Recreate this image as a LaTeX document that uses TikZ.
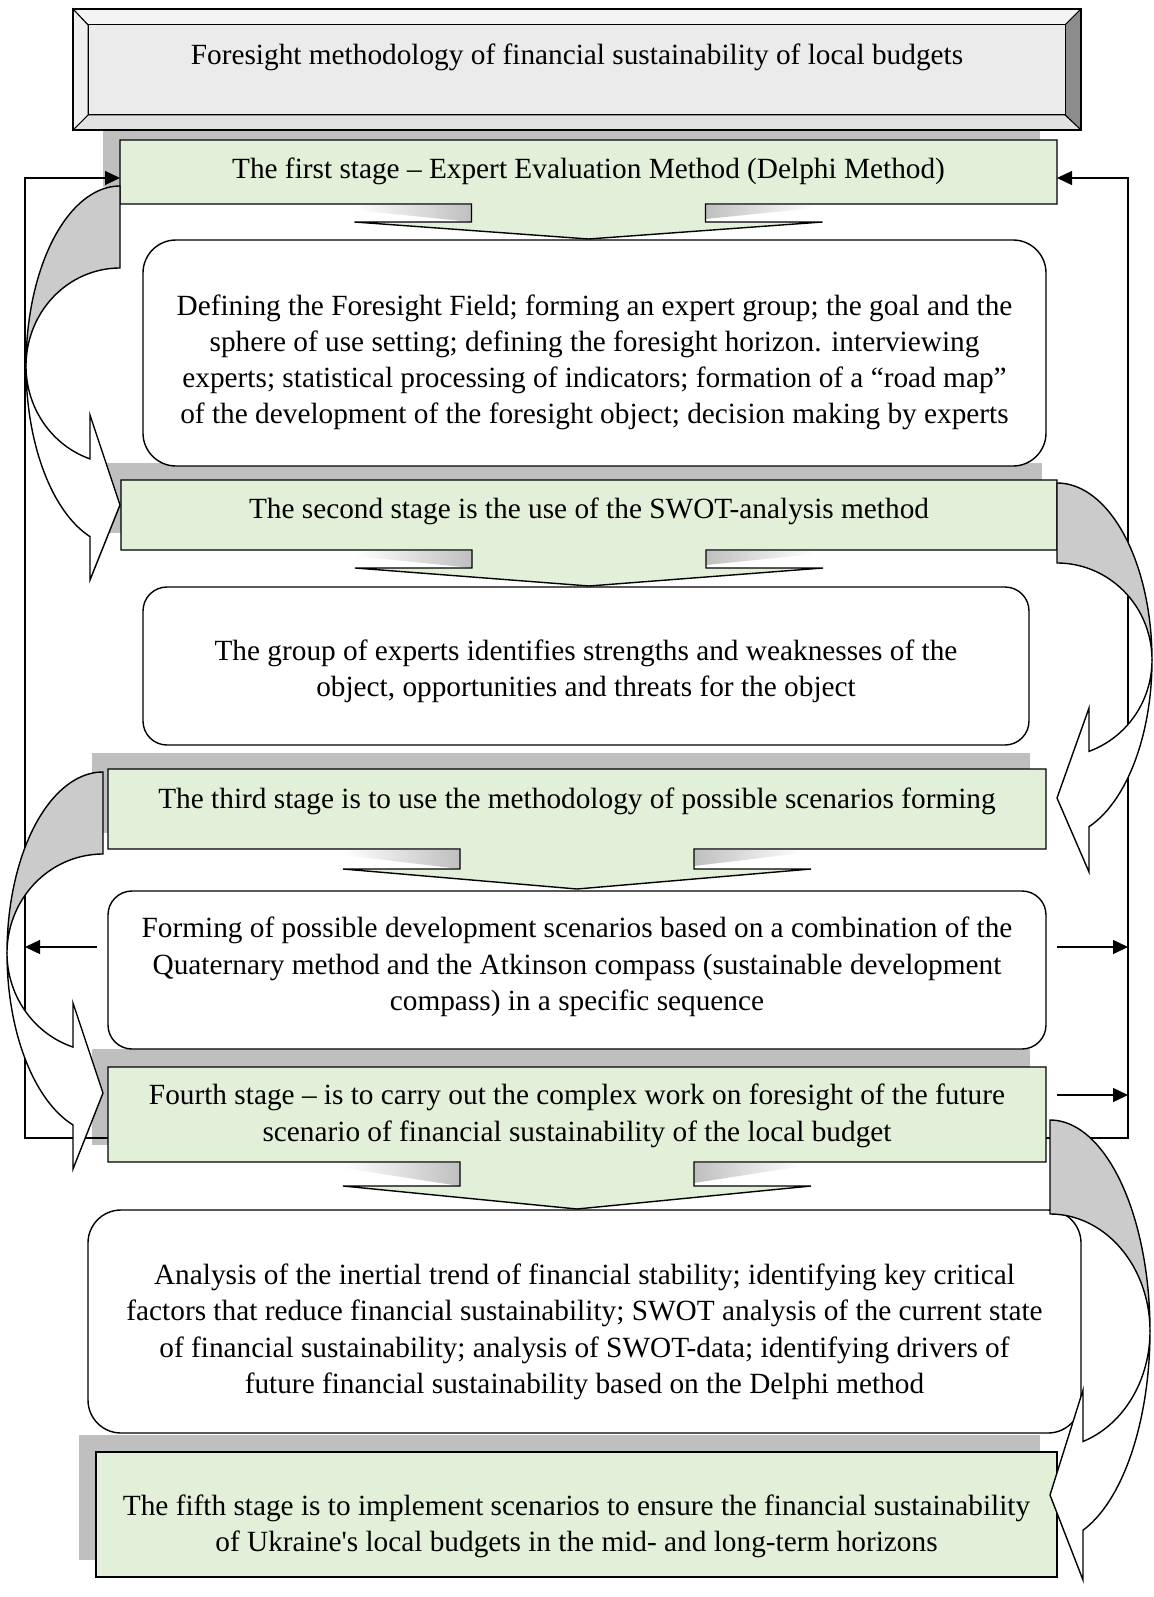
\documentclass[tikz,border=0pt]{standalone}
\usepackage{fontspec}
\newfontfamily\diagfont{Liberation Serif}
\usetikzlibrary{arrows.meta}
\definecolor{stagegreen}{HTML}{E2EFD9}
\definecolor{shadowgray}{HTML}{BFBFBF}
\definecolor{backgray}{HTML}{CBCBCB}
\definecolor{titlefill}{HTML}{EBEBEB}
\definecolor{beveltop}{HTML}{F4F4F4}
\definecolor{bevelleft}{HTML}{EFEFEF}
\definecolor{bevelbottom}{HTML}{E2E2E2}
\definecolor{bevelright}{HTML}{8C8C8C}
\newcommand\ls{\rule[-9.15pt]{0pt}{36.3pt}}
% callout: x1 y1 x2 y2 cx wingy tipy
\newcommand\calloutshape[7]{\filldraw[greenbox] (#1,#2) -- (#3,#2) -- (#3,#4) -- ({#5+117},#4) -- ({#5+117},#6) -- ({#5+234},#6) -- (#5,#7) -- ({#5-234},#6) -- ({#5-117},#6) -- ({#5-117},#4) -- (#1,#4) -- cycle;}
\newcommand\wedges[3]{%
  \shade[left color=white,right color=shadowgray] ({#1-234},{#2+1}) -- ({#1-117},{#2+1}) -- ({#1-117},#3) -- ({#1-234},{#2+6}) -- cycle;
  \shade[left color=shadowgray,right color=white] ({#1+117},{#2+1}) -- ({#1+226},{#2+1}) -- ({#1+226},{#2+4}) -- ({#1+117},{#3-3}) -- cycle;}
\newcommand\setcv[6]{\def\cvx{#1}\def\cvy{#2}\def\cvd{#3}\def\cvrx{#4}\def\cvra{#5}\def\cvrb{#6}}
\newcommand\cvbackdraw{\filldraw[cvback] plot[domain=-90:0,samples=60,variable=\t] ({\cvx+(\cvd)*\cvrx*cos(\t)},{\cvy+\cvra*sin(\t)}) -- plot[domain=0:90,samples=60,variable=\t] ({\cvx+(\cvd)*\cvrx*cos(\t)},{\cvy-\cvrb*sin(\t)}) -- cycle;}
\newcommand\cvfrontdraw[4]{%
  \pgfmathsetmacro\cvte{acos(abs(#1-\cvx)/\cvrx)}%
  \filldraw[cvfront] plot[domain=0:\cvte,samples=60,variable=\t] ({\cvx+(\cvd)*\cvrx*cos(\t)},{\cvy+\cvra*sin(\t)}) -- (#1,#3) -- (\cvx,#4) -- (#1,#2) -- plot[domain=0:\cvte,samples=60,variable=\t] ({\cvx+(\cvd)*\cvrx*cos(\cvte-\t)},{\cvy+\cvrb*sin(\cvte-\t)}) -- cycle;}
\begin{document}
\begin{tikzpicture}[x=1pt,y=-1pt,
  geo/.style={rectangle,inner sep=0pt,outer sep=0pt,draw=none},
  txt/.style={font=\diagfont\fontsize{29.3}{36.3}\selectfont,align=center,inner sep=0pt},
  greenbox/.style={draw=black,line width=1.4pt,fill=stagegreen},
  rbox/.style={draw=black,line width=1.4pt,fill=white},
  conn/.style={line width=1.4pt,-{Triangle[length=15pt,width=14pt]}},
  cvback/.style={draw=black,line width=1.4pt,fill=backgray},
  cvfront/.style={draw=black,line width=1.4pt,fill=white},
  bevel/.style={draw=black,line width=1pt}]
\useasboundingbox (0,0) rectangle (1153,1597);
\fill[white] (0,0) rectangle (1153,1597);

% ---------- shadows ----------
\fill[shadowgray] (103,123) rectangle (1040,187);
\fill[shadowgray] (106,463) rectangle (1042,533);
\fill[shadowgray] (92,753) rectangle (1030,833);
\fill[shadowgray] (92,1049) rectangle (1030,1145);
\fill[shadowgray] (79,1435) rectangle (1040,1560);
\wedges{588.5}{204}{222}
\wedges{589}{550}{568}
\wedges{577}{849}{869}
\wedges{577}{1162}{1186}

% ---------- title ----------
\node[geo,minimum width=1008pt,minimum height=121pt] (title) at (577,69.5) {};
\filldraw[bevel,fill=beveltop] (73,9) -- (1081,9) -- (1065,25) -- (88,25) -- cycle;
\filldraw[bevel,fill=bevelright] (1081,9) -- (1081,130) -- (1065,115) -- (1065,25) -- cycle;
\filldraw[bevel,fill=bevelbottom] (1081,130) -- (73,130) -- (88,115) -- (1065,115) -- cycle;
\filldraw[bevel,fill=bevelleft] (73,130) -- (73,9) -- (88,25) -- (88,115) -- cycle;
\filldraw[bevel,fill=titlefill] (88,25) rectangle (1065,115);
\draw[line width=1.4pt] (73,9) rectangle (1081,130);
\node[txt] (ttitle) at (577,56) {\ls Foresight methodology of financial sustainability of local budgets};

% ---------- stage boxes (callouts) ----------
\node[geo,minimum width=937pt,minimum height=64pt] (s1) at (588.5,172) {};
\calloutshape{120}{140}{1057}{204}{588.5}{222}{239}
\node[geo,minimum width=936pt,minimum height=70pt] (s2) at (589,515) {};
\calloutshape{121}{480}{1057}{550}{589}{568}{586}
\node[geo,minimum width=938pt,minimum height=80pt] (s3) at (577,809) {};
\calloutshape{108}{769}{1046}{849}{577}{869}{889}
\node[geo,minimum width=938pt,minimum height=95pt] (s4) at (577,1114.5) {};
\calloutshape{108}{1067}{1046}{1162}{577}{1186}{1209}
\node[greenbox,geo,draw=black,minimum width=961pt,minimum height=125pt] (s5) at (576.5,1514.5) {};

% ---------- rounded boxes ----------
\node[geo,rbox,rounded corners=33pt,minimum width=903pt,minimum height=226pt] (rb1) at (594.5,353) {};
\node[geo,rbox,rounded corners=24pt,minimum width=886pt,minimum height=158pt] (rb2) at (586,666) {};
\node[geo,rbox,rounded corners=24pt,minimum width=938pt,minimum height=158pt] (rb3) at (577,970) {};
\node[geo,rbox,rounded corners=33pt,minimum width=993pt,minimum height=223pt] (rb4) at (584.5,1321.5) {};

% ---------- texts ----------
\node[txt] (t1) at (588.5,170) {\ls The first stage – Expert Evaluation Method (Delphi Method)};
\node[txt] (trb1) at (594.5,360.5) {\ls Defining the Foresight Field; forming an expert group; the goal and the\\
\ls sphere of use setting; defining the foresight horizon. interviewing\\
\ls experts; statistical processing of indicators; formation of a “road map”\\
\ls of the development of the foresight object; decision making by experts};
\node[txt] (t2) at (589,509) {\ls The second stage is the use of the SWOT-analysis method};
\node[txt] (trb2) at (586,669.5) {\ls The group of experts identifies strengths and weaknesses of the\\
\ls object, opportunities and threats for the object};
\node[txt] (t3) at (577,799) {\ls The third stage is to use the methodology of possible scenarios forming};
\node[txt] (trb3) at (577,965) {\ls Forming of possible development scenarios based on a combination of the\\
\ls Quaternary method and the Atkinson compass (sustainable development\\
\ls compass) in a specific sequence};
\node[txt] (t4) at (577,1114) {\ls Fourth stage – is to carry out the complex work on foresight of the future\\
\ls scenario of financial sustainability of the local budget};
\node[txt] (trb4) at (584.5,1330) {\ls Analysis of the inertial trend of financial stability; identifying key critical\\
\ls factors that reduce financial sustainability; SWOT analysis of the current state\\
\ls of financial sustainability; analysis of SWOT-data; identifying drivers of\\
\ls future financial sustainability based on the Delphi method};
\node[txt] (t5) at (576.5,1524.5) {\ls The fifth stage is to implement scenarios to ensure the financial sustainability\\
\ls of Ukraine's local budgets in the mid- and long-term horizons};

% ---------- feedback connectors ----------
\coordinate (Lb) at (25,1138);
\coordinate (Lt) at (25,178);
\coordinate (Rb) at (1128,1138);
\coordinate (Rt) at (1128,178);
\draw[conn] (s4.west |- Lb) -- (Lb) -- (Lt) -- (s1.west |- Lt);
\draw[conn] (s4.east |- Rb) -- (Rb) -- (Rt) -- (s1.east |- Rt);
\coordinate (r3L) at (97,947);
\coordinate (r3R) at (1057,947);
\coordinate (s4R) at (1057,1095);
\draw[conn] (r3L) -- (r3L -| Lb);
\draw[conn] (r3R) -- (r3R -| Rb);
\draw[conn] (s4R) -- (s4R -| Rb);

% ---------- curved arrows ----------
\setcv{120}{366}{-1}{94}{180}{98}
\cvbackdraw
\cvfrontdraw{90}{415}{580}{505}
\setcv{1057}{660}{1}{95}{177}{97}
\cvbackdraw
\cvfrontdraw{1089}{708}{872}{798}
\setcv{103}{953}{-1}{96}{181}{99}
\cvbackdraw
\cvfrontdraw{73}{1003}{1169}{1093}
\setcv{1050}{1331}{1}{100}{211}{117}
\cvbackdraw
\cvfrontdraw{1083}{1390}{1580}{1495}
\end{tikzpicture}
\end{document}
